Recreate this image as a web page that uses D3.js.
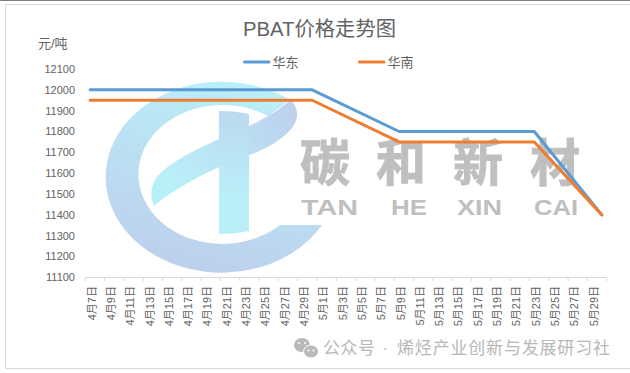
<!DOCTYPE html>
<html><head><meta charset="utf-8">
<script src="https://cdn.jsdelivr.net/npm/d3@7"></script>
<style>html,body{margin:0;padding:0;background:#fff}svg{display:block}text{font-family:"Liberation Sans","Noto Sans CJK SC",sans-serif}</style>
</head><body><svg id="c" width="630" height="373"></svg>
<script>
const aprilDays = [7,8,9,10,11,12,13,14,15,16,17,18,19,20,21,22,23,24,25,26,27,28,29,30];
const mayDays = [1,2,3,4,5,6,7,8,9,10,11,12,13,14,15,16,17,18,19,20,21,22,23,24,25,26,27,28,29,30];
const categories = aprilDays.map(d=>`4月${d}日`).concat(mayDays.map(d=>`5月${d}日`));
const keyDates = ["4月7日","4月30日","5月9日","5月23日","5月30日"];
const eastValues = [12000,12000,11800,11800,11400];
const southValues = [11950,11950,11750,11750,11400];
const yTicks = [11100,11200,11300,11400,11500,11600,11700,11800,11900,12000,12100];
const seriesNames = ["华东","华南"];
const seriesColors = ["#5b9bd5","#ed7d31"];

const svg = d3.select("#c");
const x = d3.scaleBand().domain(categories).range([85.3,606.7]).padding(0);
const y = d3.scaleLinear().domain([11100,12100]).range([277.4,69]);
const TEXT = "#636363";

// page frame
svg.append("rect").attr("width",630).attr("height",373).attr("fill","#fff");
svg.append("line").attr("x1",0).attr("x2",630).attr("y1",0.5).attr("y2",0.5).attr("stroke","#808080");
svg.append("path").attr("d","M630,4.5H5.5V368.5H630").attr("fill","none").attr("stroke","#d9d9d9");

// logo watermark
const defs = svg.append("defs");
function grad(id,x1,y1,x2,y2,stops){
  const g = defs.append("linearGradient").attr("id",id).attr("gradientUnits","userSpaceOnUse")
    .attr("x1",x1).attr("y1",y1).attr("x2",x2).attr("y2",y2);
  stops.forEach(s=>g.append("stop").attr("offset",s[0]).attr("stop-color",s[1]));
}
grad("gRing",250,80,200,268,[[0,"#b9f0f8"],[1,"#bdd0ed"]]);
grad("gSw",297,112,170,180,[[0,"#bdd0ed"],[1,"#b9f0f8"]]);
grad("gStem",234,111,234,200,[[0,"#bcd9ef"],[1,"#b9f0f8"]]);
const logo = svg.append("g");
logo.append("path").attr("fill","url(#gRing)")
  .attr("d","M322,225A116,95.5 0 1 1 290,100L268,116A84,69.5 0 1 0 280,225Z");
logo.append("path").attr("fill","url(#gSw)")
  .attr("d","M290,100C298,106 300,118 292,128C282,140 265,150 249,155C238,158 228,163 219,167C195,178 170,192 154,206C150,198 150,188 156,178C166,165 190,152 219,139L249,126C262,120 280,110 290,100Z");
logo.append("path").attr("fill","url(#gStem)")
  .attr("d","M219,111C230,111 240,112 249,114V231C240,233 230,234 219,234Z");
const wmCn = [["碳",325],["和",401],["新",478],["材",555]];
logo.selectAll(".cn").data(wmCn).join("text").attr("class","cn")
  .attr("x",d=>d[1]).attr("y",181).attr("text-anchor","middle")
  .attr("font-size",50).attr("font-weight",700).attr("fill","#bfbfbf")
  .attr("stroke","#bfbfbf").attr("stroke-width",1).text(d=>d[0]);
const wmEn = [["TAN",301,57],["HE",391,36],["XIN",457,45],["CAI",534,44]];
logo.selectAll(".en").data(wmEn).join("text").attr("class","en")
  .attr("x",d=>d[1]).attr("y",215).attr("textLength",d=>d[2]).attr("lengthAdjust","spacingAndGlyphs")
  .attr("font-size",22).attr("font-weight",700).attr("fill","#bfbfbf").text(d=>d[0]);

// title
svg.append("text").attr("x",319.5).attr("y",36).attr("text-anchor","middle")
  .attr("font-size",20).attr("fill",TEXT).attr("textLength",153).attr("lengthAdjust","spacingAndGlyphs")
  .text("PBAT价格走势图");
svg.append("text").attr("x",38).attr("y",48).attr("font-size",13).attr("fill",TEXT).text("元/吨");

// legend
const lgX = [243,358];
seriesNames.forEach((n,i)=>{
  svg.append("line").attr("x1",lgX[i]+1.5).attr("x2",lgX[i]+26).attr("y1",62).attr("y2",62)
    .attr("stroke",seriesColors[i]).attr("stroke-width",3).attr("stroke-linecap","round");
  svg.append("text").attr("x",lgX[i]+29.5).attr("y",66.5).attr("font-size",13).attr("fill",TEXT).text(n);
});

// y labels
svg.selectAll(".yl").data(yTicks).join("text").attr("class","yl")
  .attr("x",75).attr("y",d=>y(d)).attr("dy","0.35em").attr("text-anchor","end")
  .attr("font-size",11).attr("fill",TEXT).text(d=>d);

// x axis
const every2 = categories.filter((c,i)=>i%2===0);
const axis = svg.append("g").attr("transform","translate(0,277.5)");
axis.append("line").attr("x1",x.range()[0]).attr("x2",x.range()[1]).attr("stroke","#d9d9d9");
axis.selectAll(".t").data(every2).join("line").attr("class","t")
  .attr("x1",d=>x(d)).attr("x2",d=>x(d)).attr("y1",0).attr("y2",3.5).attr("stroke","#d9d9d9");
axis.append("line").attr("x1",x.range()[1]).attr("x2",x.range()[1]).attr("y1",0).attr("y2",3.5).attr("stroke","#d9d9d9");
svg.selectAll(".xl").data(every2).join("text").attr("class","xl")
  .attr("transform",d=>`translate(${x(d)+x.bandwidth()/2+1.6},286) rotate(-90)`)
  .attr("dy","0.35em").attr("text-anchor","end").attr("font-size",11).attr("fill",TEXT).text(d=>d);

// lines
const line = d3.line().x((d,i)=>x(keyDates[i])+x.bandwidth()/2).y(d=>y(d));
[eastValues,southValues].forEach((v,i)=>{
  svg.append("path").attr("d",line(v)).attr("fill","none").attr("stroke",seriesColors[i])
    .attr("stroke-width",3).attr("stroke-linecap","round").attr("stroke-linejoin","round");
});

// footer
const icon = svg.append("g").attr("fill","#b9b9b9");
icon.append("ellipse").attr("cx",302).attr("cy",345).attr("rx",8).attr("ry",7);
icon.append("ellipse").attr("cx",311).attr("cy",351.5).attr("rx",7.5).attr("ry",6.5).attr("stroke","#fff");
[[299,343],[305,343],[308.5,350.5],[313.5,350.5]].forEach(p=>
  icon.append("circle").attr("cx",p[0]).attr("cy",p[1]).attr("r",1).attr("fill","#fff"));
svg.append("text").attr("x",323).attr("y",354).attr("font-size",17).attr("fill","#b7b7b7").attr("textLength",52).text("公众号");
svg.append("text").attr("x",385).attr("y",354).attr("font-size",17).attr("text-anchor","middle").attr("fill","#b7b7b7").text("·");
svg.append("text").attr("x",397).attr("y",354).attr("font-size",17).attr("fill","#b7b7b7").attr("textLength",213).text("烯烃产业创新与发展研习社");
</script></body></html>
